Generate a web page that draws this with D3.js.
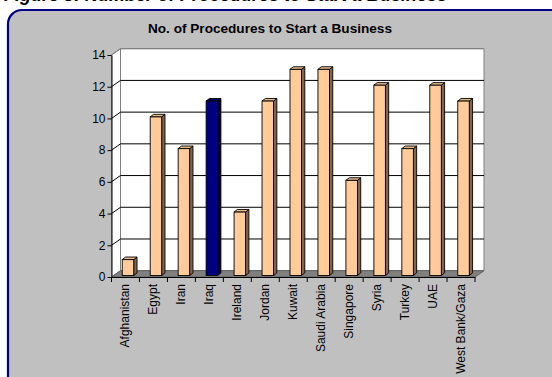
<!DOCTYPE html>
<html>
<head>
<meta charset="utf-8">
<script src="https://cdn.jsdelivr.net/npm/d3@7/dist/d3.min.js"></script>
<style>
  html, body { margin: 0; padding: 0; background: #ffffff; }
  svg { display: block; font-family: Arial, "Liberation Sans", sans-serif; }
</style>
</head>
<body>
<svg id="chart" width="552" height="377"></svg>
<script>
// Number of procedures needed to start a business, by country
const categories = ["Afghanistan", "Egypt", "Iran", "Iraq", "Ireland", "Jordan", "Kuwait",
  "Saudi Arabia", "Singapore", "Syria", "Turkey", "UAE", "West Bank/Gaza"];
const procedures = [1, 10, 8, 11, 4, 11, 13, 13, 6, 12, 8, 12, 11];
const highlighted = ["Iraq"];
const yTickValues = [0, 2, 4, 6, 8, 10, 12, 14];
const chartTitle = "No. of Procedures to Start a Business";
const captionText = "Figure 3:  Number of Procedures to Start a Business";

const svg = d3.select("#chart");

// caption above the chart frame (runs off the top of the page)
svg.append("text")
  .attr("x", 4).attr("y", 0.5)
  .attr("font-size", 18).attr("font-weight", "bold").attr("font-style", "italic")
  .attr("fill", "#000")
  .text(captionText);

// rounded chart frame
svg.append("rect")
  .attr("x", 8).attr("y", 10)
  .attr("width", 570).attr("height", 380)
  .attr("rx", 14).attr("ry", 14)
  .attr("fill", "#c0c0c0")
  .attr("stroke", "#000080").attr("stroke-width", 2.2);

svg.append("text")
  .attr("x", 270).attr("y", 33)
  .attr("text-anchor", "middle")
  .attr("font-size", 13.6).attr("font-weight", "bold")
  .text(chartTitle);

// scales
const x0 = 111.5, x1 = 475;
const x = d3.scaleBand().domain(categories).range([x0, x1]).padding(0);
const y = d3.scaleLinear().domain([0, 14]).range([277, 55]);

// 3-D depth of the plot box and of the bars
const depth = { dx: 9, dy: -6.3 };
const barDepth = { dx: 3.3, dy: -2.6 };
const barShift = { dx: 2.5, dy: -1.5 };
const barWidth = 11.5;

const g = svg.append("g");
const pts = a => a.map(p => p.join(",")).join(" ");

// back wall
g.append("polygon")
  .attr("points", pts([[x0 + depth.dx, y(14) + depth.dy], [x1 + depth.dx, y(14) + depth.dy],
                       [x1 + depth.dx, y(0) + depth.dy], [x0 + depth.dx, y(0) + depth.dy]]))
  .attr("fill", "#ffffff").attr("stroke", "#808080").attr("stroke-width", 1);

// side wall
g.append("polygon")
  .attr("points", pts([[x0, y(14)], [x0 + depth.dx, y(14) + depth.dy],
                       [x0 + depth.dx, y(0) + depth.dy], [x0, y(0)]]))
  .attr("fill", "#ffffff").attr("stroke", "#808080").attr("stroke-width", 1);

// floor
g.append("polygon")
  .attr("points", pts([[x0, y(0)], [x0 + depth.dx, y(0) + depth.dy],
                       [x1 + depth.dx, y(0) + depth.dy], [x1, y(0)]]))
  .attr("fill", "#808080").attr("stroke", "#606060").attr("stroke-width", 1);

// gridlines on back and side walls
const grid = yTickValues.filter(t => t > 0);
g.selectAll("line.gridBack").data(grid).enter().append("line")
  .attr("x1", x0 + depth.dx).attr("x2", x1 + depth.dx)
  .attr("y1", d => y(d) + depth.dy).attr("y2", d => y(d) + depth.dy)
  .attr("stroke", d => d === 14 ? "#808080" : "#000000").attr("stroke-width", 1);
g.selectAll("line.gridSide").data(grid).enter().append("line")
  .attr("x1", x0).attr("x2", x0 + depth.dx)
  .attr("y1", d => y(d)).attr("y2", d => y(d) + depth.dy)
  .attr("stroke", d => d === 14 ? "#808080" : "#000000").attr("stroke-width", 1);

// bars (front, top and right faces)
const bars = g.selectAll("g.bar").data(categories.map((c, i) => ({ c, v: procedures[i] })))
  .enter().append("g").attr("class", "bar");

const colorsFor = d => highlighted.includes(d.c)
  ? { front: "#000080", top: "#000066", side: "#000040" }
  : { front: "#ffcc99", top: "#e8b887", side: "#806650" };

bars.each(function (d) {
  const sel = d3.select(this);
  const col = colorsFor(d);
  const left = x(d.c) + (x.bandwidth() - barWidth) / 2 + barShift.dx;
  const right = left + barWidth;
  const top = y(d.v) + barShift.dy;
  const bottom = y(0) + barShift.dy;
  sel.append("polygon")
    .attr("points", pts([[right, top], [right + barDepth.dx, top + barDepth.dy],
                         [right + barDepth.dx, bottom + barDepth.dy], [right, bottom]]))
    .attr("fill", col.side).attr("stroke", "#000").attr("stroke-width", 0.9);
  sel.append("polygon")
    .attr("points", pts([[left, top], [left + barDepth.dx, top + barDepth.dy],
                         [right + barDepth.dx, top + barDepth.dy], [right, top]]))
    .attr("fill", col.top).attr("stroke", "#000").attr("stroke-width", 0.9);
  sel.append("rect")
    .attr("x", left).attr("y", top)
    .attr("width", barWidth).attr("height", bottom - top)
    .attr("fill", col.front).attr("stroke", "#000").attr("stroke-width", 0.9);
});

// value axis
const yAxis = d3.axisLeft(y).tickValues(yTickValues).tickSize(4).tickPadding(2).tickSizeOuter(0);
const yAxisG = svg.append("g").attr("transform", `translate(${x0},0)`).call(yAxis);
yAxisG.select(".domain").attr("stroke", "#000");
yAxisG.selectAll(".tick line").attr("stroke", "#000");
yAxisG.selectAll("text").attr("font-size", 12).attr("font-family", "Arial, 'Liberation Sans', sans-serif").attr("fill", "#000");

// category axis: line, boundary ticks and rotated labels
const xAxis = d3.axisBottom(x).tickSize(0).tickSizeOuter(0).tickPadding(0);
const xAxisG = svg.append("g").attr("transform", `translate(0,${y(0)})`).call(xAxis);
xAxisG.select(".domain").attr("stroke", "#000");
xAxisG.selectAll(".tick text")
  .attr("font-size", 12).attr("font-family", "Arial, 'Liberation Sans', sans-serif").attr("fill", "#000")
  .attr("text-anchor", "end")
  .attr("dy", null)
  .attr("dominant-baseline", "central")
  .attr("transform", "translate(0,7) rotate(-90)");

const boundaries = categories.map(c => x(c)).concat([x1]);
svg.append("g").selectAll("line").data(boundaries).enter().append("line")
  .attr("x1", d => d).attr("x2", d => d)
  .attr("y1", y(0)).attr("y2", y(0) + 5)
  .attr("stroke", "#000").attr("stroke-width", 1);
</script>
</body>
</html>
